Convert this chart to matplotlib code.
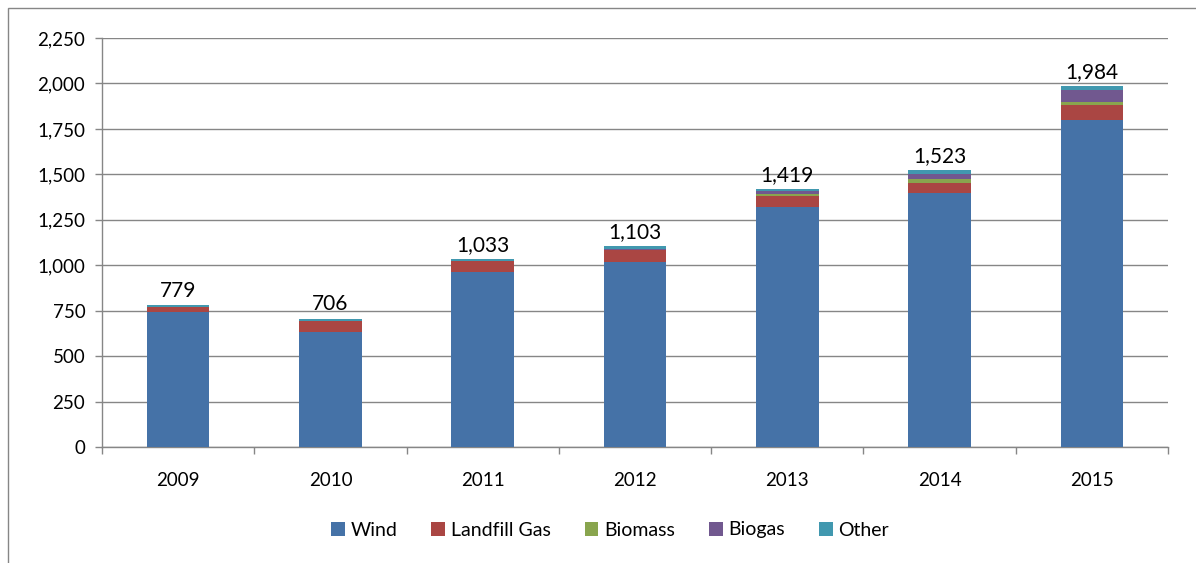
import matplotlib
matplotlib.use("Agg")
import matplotlib.pyplot as plt
from matplotlib.patches import Rectangle
import numpy as np

years = ["2009", "2010", "2011", "2012", "2013", "2014", "2015"]
wind = [745, 635, 963, 1019, 1320, 1395, 1800]
landfill = [25, 60, 60, 64, 62, 58, 82]
biomass = [0, 0, 0, 3, 12, 19, 15]
biogas = [0, 0, 0, 5, 13, 31, 65]
other = [9, 11, 10, 12, 12, 20, 22]
totals = [779, 706, 1033, 1103, 1419, 1523, 1984]

series = [("Wind", wind, "#4572A7"),
          ("Landfill Gas", landfill, "#AA4643"),
          ("Biomass", biomass, "#89A54E"),
          ("Biogas", biogas, "#71588F"),
          ("Other", other, "#4198AF")]

plt.rcParams['font.family'] = ['Lato', 'DejaVu Sans']

W, H = 1196, 563
fig = plt.figure(figsize=(W / 100, H / 100), dpi=100)
ax = fig.add_axes([102 / W, 1 - 447 / H, (1168 - 102) / W, (447 - 38) / H])

x = np.arange(len(years))
bottom = np.zeros(len(years))
for name, vals, col in series:
    ax.bar(x, vals, bottom=bottom, width=0.41, color=col, label=name, zorder=3)
    bottom += np.array(vals)

for xi, t in zip(x, totals):
    ax.annotate(f"{t:,}", (xi, t), xytext=(0, 3), textcoords="offset points",
                ha="center", va="bottom", fontsize=15, color="black", zorder=4)

ax.set_xlim(-0.5, len(years) - 0.5)
ax.set_ylim(0, 2250)
ax.set_yticks(np.arange(0, 2251, 250))
ax.set_yticklabels([f"{v:,}" for v in np.arange(0, 2251, 250)], fontsize=13.5)
ax.yaxis.grid(True, color="#868686", linewidth=1, zorder=0)
ax.set_axisbelow(True)

ax.set_xticks(x)
ax.set_xticklabels(years, fontsize=13.5)
ax.tick_params(axis="x", length=0, pad=18)
ax.set_xticks(np.arange(-0.5, len(years), 1), minor=True)
ax.tick_params(axis="x", which="minor", length=5, color="#868686", width=1)
ax.tick_params(axis="y", length=5, color="#868686", width=1, pad=7)

for s in ["top", "right"]:
    ax.spines[s].set_visible(False)
for s in ["left", "bottom"]:
    ax.spines[s].set_color("#868686")
    ax.spines[s].set_linewidth(1)

leg = fig.legend(loc="center", bbox_to_anchor=(610 / W, 1 - 530 / H), ncol=5,
                 frameon=False, fontsize=14, handlelength=0.7, handleheight=0.7,
                 handletextpad=0.3, columnspacing=1.75)

fig.patches.append(Rectangle((8 / W, -0.1), 1.2, 1 - 8 / H + 0.1,
                             transform=fig.transFigure, fill=False,
                             edgecolor="#868686", linewidth=1))

fig.savefig("out.png", dpi=100)
